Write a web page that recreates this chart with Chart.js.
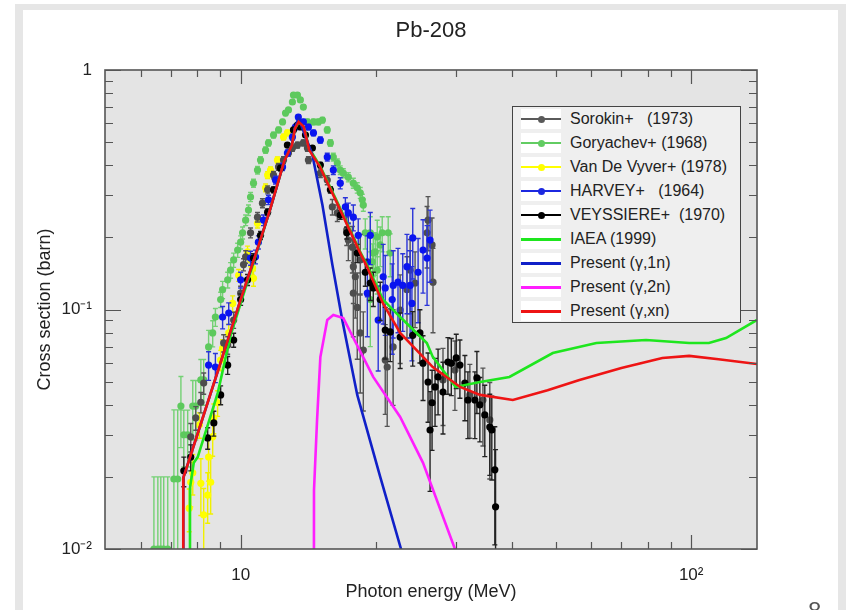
<!DOCTYPE html>
<html><head><meta charset="utf-8">
<script src="https://cdn.jsdelivr.net/npm/chart.js@4.4.0/dist/chart.umd.min.js"></script>
<style>
html,body{margin:0;padding:0;background:#fff;overflow:hidden;width:850px;height:610px}
#wrap{position:relative;width:850px;height:610px}
canvas{position:absolute;left:0;top:0}
.frame{position:absolute;background:#e6e6e6}
#title{position:absolute;left:331px;width:200px;top:16px;text-align:center;font:22px "Liberation Sans",Arial,sans-serif;color:#222;line-height:28px}
#legend{position:absolute;left:512px;top:106px;width:227px;height:215px;background:#efefef;border:1px solid #444;font-family:"Liberation Sans",Arial,sans-serif;font-size:16px;color:#222}
.row{position:absolute;left:0;height:24px;width:100%}
.sw{position:absolute;left:8px;top:2px;width:40px;height:20px;background:#fff}
.ln{position:absolute;left:0;width:40px}
.dot{position:absolute;left:16.5px;top:6.5px;width:7px;height:7px;border-radius:50%}
.tx{position:absolute;left:57px;top:0;line-height:24px;white-space:pre}
#pg{position:absolute;left:808px;top:597px;font:24px "Liberation Sans",Arial,sans-serif;color:#555}
</style></head>
<body>
<div id="wrap">
<canvas id="c" width="850" height="610"></canvas>
<div class="frame" style="left:15px;top:4px;width:8px;height:606px"></div>
<div class="frame" style="left:15px;top:4px;width:831px;height:6px"></div>
<div class="frame" style="left:838px;top:4px;width:8px;height:606px"></div>
<div id="title">Pb-208</div>
<div id="legend"></div>
<div id="pg">8</div>
</div>
<script>
// ---------- axis ticks ----------
const xMajorTicks = [10, 100];
const xTickLabels = ['10', '10²'];
const xMinorTicks = [6, 7, 8, 9, 20, 30, 40, 50, 60, 70, 80, 90];
const yMajorTicks = [0.01, 0.1, 1];
const yTickLabels = ['10⁻²', '10⁻¹', '1'];
const yMinorTicks = [0.02,0.03,0.04,0.05,0.06,0.07,0.08,0.09,0.2,0.3,0.4,0.5,0.6,0.7,0.8,0.9];

// ---------- experimental data (E MeV, sigma barn, error barn) ----------
const soroE = [7.75,7.95,8.16,8.28,9.17,9.36,9.65,10.0,10.15,10.26,10.52,10.90,11.18,11.48,11.83,12.14,12.45,12.77,13.03,13.37,13.78,14.07,14.14,15.03,15.57,15.98,16.39,17.2,17.34,17.7,17.79,17.97,17.79,18.15,18.43,18.72,18.43,20.94,21.15,21.8,22.6,23.4,23.78,24.39,25.93,26.06,26.6,26.73,28.13,29.9,32.27,34.5,35.73];
const soroS = [0.0294,0.0353,0.0410,0.0493,0.0725,0.071,0.0904,0.117,0.154,0.166,0.209,0.243,0.278,0.316,0.364,0.394,0.421,0.450,0.472,0.486,0.496,0.472,0.421,0.371,0.347,0.268,0.253,0.215,0.195,0.182,0.151,0.137,0.117,0.102,0.0798,0.0677,0.161,0.0615,0.0575,0.0698,0.0995,0.121,0.146,0.129,0.209,0.236,0.186,0.130,0.0508,0.0559,0.0440,0.0419,0.0346];
const soroErr = [0.004,0.004,0.004,0.005,0.006,0.006,0.007,0.008,0.009,0.01,0.01,0.011,0.012,0.012,0.013,0.013,0.014,0.014,0.014,0.014,0.014,0.014,0.014,0.015,0.015,0.02,0.02,0.03,0.035,0.04,0.045,0.045,0.04,0.04,0.035,0.03,0.045,0.025,0.025,0.03,0.04,0.045,0.05,0.045,0.06,0.06,0.055,0.05,0.018,0.018,0.015,0.015,0.015];

const goryE = [6.42,6.55,6.65,6.75,6.89,7.11,7.25,7.37,7.48,7.63,7.83,7.95,8.16,8.28,8.49,8.67,8.79,9.03,9.12,9.36,9.50,9.65,9.85,10.0,10.10,10.26,10.41,10.52,10.68,10.90,11.07,11.36,11.53,11.83,12.14,12.39,12.58,12.77,13.03,13.10,13.37,13.57,13.78,14.07,14.51,14.88,15.19,15.57,15.82,16.06,16.39,16.64,16.90,17.34,17.79,18.15,18.43,18.62,18.72,18.91,19.40,19.60,19.70,19.90,20.10,20.10,20.41,20.62,21.26,21.48,19.40];
const goryS = [0.0100,0.0100,0.0100,0.0100,0.0100,0.0196,0.0196,0.0395,0.0300,0.0300,0.0395,0.0395,0.0508,0.0508,0.0698,0.0798,0.093,0.110,0.121,0.133,0.146,0.161,0.177,0.191,0.209,0.236,0.260,0.295,0.337,0.382,0.421,0.463,0.496,0.535,0.562,0.607,0.661,0.681,0.735,0.786,0.786,0.750,0.700,0.607,0.607,0.607,0.618,0.562,0.496,0.433,0.409,0.382,0.371,0.357,0.337,0.322,0.307,0.287,0.273,0.209,0.209,0.158,0.172,0.174,0.201,0.146,0.186,0.209,0.209,0.172,0.110];
const goryErr = [0.010,0.010,0.010,0.010,0.010,0.0185,0.0185,0.013,0.008,0.008,0.011,0.011,0.011,0.011,0.012,0.010,0.008,0.008,0.010,0.010,0.011,0.011,0.012,0.012,0.012,0.012,0.013,0.013,0.013,0.014,0.014,0.014,0.015,0.015,0.015,0.015,0.015,0.015,0.016,0.016,0.016,0.016,0.016,0.016,0.016,0.016,0.016,0.016,0.016,0.016,0.016,0.016,0.016,0.016,0.016,0.016,0.016,0.016,0.016,0.03,0.035,0.03,0.035,0.035,0.035,0.03,0.035,0.035,0.035,0.035,0.04];

const vdvE = [7.69,7.75,7.83,8.10,8.16,8.28,8.45,8.49,8.58,8.67,8.72,8.89,9.03,9.12,9.41,9.60,9.90,10.36,10.52,10.63,10.68,10.90,11.36,11.48,11.65,12.07,12.45,12.70];
const vdvS = [0.0148,0.0190,0.0208,0.0330,0.0188,0.0139,0.0168,0.0242,0.0190,0.0294,0.0353,0.0408,0.0615,0.0688,0.0798,0.106,0.139,0.174,0.161,0.149,0.135,0.229,0.322,0.364,0.382,0.421,0.525,0.546];
const vdvErr = [0.003,0.004,0.004,0.004,0.005,0.004,0.004,0.005,0.005,0.005,0.005,0.005,0.006,0.006,0.007,0.008,0.008,0.01,0.01,0.01,0.01,0.01,0.012,0.012,0.012,0.012,0.014,0.014];

const harvE = [8.49,8.79,9.12,9.41,10.0,10.52,10.79,10.95,11.24,11.53,11.95,12.39,12.70,13.03,13.23,13.43,13.78,14.14,14.51,15.03,15.57,16.06,16.64,17.08,17.34,17.79,18.24,19.11,19.40,19.11,20.2,20.72,20.94,21.70,21.81,22.35,22.9,23.4,23.78,24.0,24.1,24.77,25.4,25.93,26.33];
const harvS = [0.0586,0.0575,0.093,0.0966,0.133,0.164,0.166,0.191,0.236,0.287,0.347,0.394,0.450,0.525,0.578,0.636,0.607,0.578,0.546,0.510,0.433,0.382,0.337,0.268,0.253,0.243,0.204,0.158,0.204,0.117,0.0904,0.137,0.123,0.110,0.126,0.130,0.126,0.151,0.126,0.106,0.199,0.143,0.177,0.164,0.195];
const harvErr = [0.008,0.008,0.01,0.01,0.01,0.011,0.011,0.012,0.012,0.013,0.013,0.014,0.014,0.015,0.015,0.015,0.015,0.015,0.015,0.015,0.016,0.016,0.018,0.025,0.025,0.03,0.035,0.045,0.05,0.04,0.035,0.05,0.045,0.045,0.05,0.05,0.045,0.055,0.05,0.045,0.065,0.055,0.06,0.06,0.065];

const veysE = [7.48,7.75,8.45,8.72,9.03,9.36,9.65,10.0,10.36,10.68,11.07,11.48,11.83,12.26,12.70,13.10,13.37,13.57,13.93,14.43,15.03,15.82,16.64,17.2,18.15,18.91,19.40,19.70,20.41,20.94,21.48,22.6,24.1,25.0,25.4,26.06,26.33,26.6,27.01,27.43,28.13,28.85,29.35,30.1,30.67,31.46,31.95,33.11,33.45,33.96,34.83,35.73,36.1,36.66,36.8];
const veysS = [0.0212,0.0242,0.0291,0.0336,0.0440,0.0586,0.0746,0.110,0.133,0.164,0.204,0.255,0.316,0.389,0.486,0.562,0.589,0.578,0.535,0.472,0.401,0.316,0.248,0.209,0.172,0.143,0.129,0.123,0.110,0.0821,0.0806,0.0767,0.078,0.0798,0.0597,0.0498,0.0314,0.0408,0.0475,0.0523,0.0452,0.0603,0.0597,0.0628,0.0586,0.0493,0.0419,0.0419,0.0518,0.0400,0.0363,0.0323,0.0314,0.0214,0.0150];
const veysErr = [0.003,0.003,0.003,0.004,0.004,0.005,0.005,0.006,0.007,0.007,0.008,0.008,0.009,0.01,0.01,0.01,0.01,0.01,0.01,0.01,0.01,0.01,0.01,0.012,0.015,0.018,0.02,0.02,0.02,0.02,0.02,0.02,0.02,0.02,0.018,0.016,0.014,0.015,0.015,0.016,0.015,0.016,0.016,0.016,0.016,0.015,0.013,0.013,0.015,0.012,0.012,0.012,0.012,0.011,0.011];

// ---------- evaluated curves ----------
const iaeaE = [7.70,7.72,7.87,8.03,8.5,8.9,9.5,10.0,11.0,11.65,12.5,13.0,13.2,13.45,13.8,14.2,15.0,16.4,18.4,19.1,20.7,22.6,25.9,26.7,30.0,34.0,39.5,49.3,61.6,79.4,99,109.5,119.5,140];
const iaeaS = [0.005,0.0180,0.0229,0.0242,0.034,0.045,0.078,0.106,0.187,0.265,0.417,0.49,0.57,0.605,0.58,0.47,0.398,0.28,0.175,0.153,0.11,0.093,0.0725,0.0634,0.0475,0.0498,0.0523,0.0658,0.0725,0.0746,0.0725,0.0725,0.076,0.0904];

const g1nE = [7.45,7.46,8.0,9.0,10.0,11.0,11.65,12.5,13.0,13.2,13.45,14.43,15.19,15.98,16.81,18.15,20.41,22.7,23.5];
const g1nS = [0.005,0.0198,0.0297,0.059,0.110,0.189,0.265,0.417,0.49,0.575,0.63,0.442,0.273,0.154,0.0904,0.0440,0.0200,0.0100,0.008];

const g2nE = [14.54,14.55,14.78,15.03,15.57,16.06,16.9,19.69,22.6,25.4,29.9,30.5];
const g2nS = [0.005,0.0176,0.0346,0.0633,0.0904,0.0948,0.0921,0.0523,0.0356,0.0229,0.0100,0.009];

const gxnE = [7.45,7.46,8.0,9.0,10.0,11.0,11.65,12.5,13.0,13.2,13.45,13.8,14.2,15.0,16.4,18.43,19.1,20.7,22.6,26.7,30.7,34.0,40.2,48,56.5,70,86.3,99,115,140];
const gxnS = [0.005,0.0198,0.0297,0.059,0.110,0.189,0.265,0.417,0.486,0.57,0.607,0.58,0.463,0.394,0.276,0.172,0.150,0.106,0.0798,0.0575,0.0475,0.044,0.0419,0.046,0.0508,0.057,0.0627,0.064,0.062,0.0592];

// ---------- legend ----------
const legendNames = ['Sorokin+   (1973)','Goryachev+ (1968)','Van De Vyver+ (1978)','HARVEY+   (1964)','VEYSSIERE+  (1970)','IAEA (1999)','Present (γ,1n)','Present (γ,2n)','Present (γ,xn)'];
const legendColors = ['#5a5a5a','#62cc62','#ffff00','#1c28e0','#000000','#1ee61e','#1020c8','#ff1eff','#ee1414'];
const legendDots = [true,true,true,true,true,false,false,false,false];

const pts = (E,S) => E.map((e,i)=>({x:e,y:S[i]}));

const leg = document.getElementById('legend');
legendNames.forEach((n,i)=>{
  const r = document.createElement('div'); r.className='row'; r.style.top=(i*24)+'px';
  const sw = document.createElement('div'); sw.className='sw';
  const ln = document.createElement('div'); ln.className='ln';
  const lw = legendDots[i] ? 1.5 : 3;
  ln.style.height=lw+'px'; ln.style.top=(10-lw/2)+'px'; ln.style.background=legendColors[i];
  sw.appendChild(ln);
  if (legendDots[i]) { const d=document.createElement('div'); d.className='dot'; d.style.background=legendColors[i]; sw.appendChild(d); }
  const t = document.createElement('div'); t.className='tx'; t.textContent=n;
  r.appendChild(sw); r.appendChild(t); leg.appendChild(r);
});

// ---------- plugins ----------
const errorBars = {
  id:'errorBars',
  beforeDatasetDraw(chart,args){
    const ds = chart.data.datasets[args.index];
    if (!ds.err) return;
    const {ctx, chartArea:a, scales:{x,y}} = chart;
    ctx.save();
    ctx.beginPath(); ctx.rect(a.left,a.top,a.right-a.left,a.bottom-a.top); ctx.clip();
    ctx.strokeStyle = ds.errColor; ctx.lineWidth = 1.4;
    ctx.beginPath();
    ds.data.forEach((p,i)=>{
      const px = x.getPixelForValue(p.x);
      const lo = Math.max(p.y-ds.err[i], 1e-4), hi = p.y+ds.err[i];
      const y1 = y.getPixelForValue(lo), y2 = y.getPixelForValue(hi);
      ctx.moveTo(px,y1); ctx.lineTo(px,y2);
      ctx.moveTo(px-2.5,y1); ctx.lineTo(px+2.5,y1);
      ctx.moveTo(px-2.5,y2); ctx.lineTo(px+2.5,y2);
    });
    ctx.stroke();
    ctx.restore();
  }
};
const frame = {
  id:'frame',
  beforeDraw(chart){
    const {ctx, chartArea:a} = chart;
    ctx.save();
    ctx.fillStyle='#ffffff'; ctx.fillRect(0,0,chart.width,chart.height);
    ctx.fillStyle='#e4e4e4'; ctx.fillRect(a.left,a.top,a.right-a.left,a.bottom-a.top);
    ctx.restore();
  },
  afterDraw(chart){
    const {ctx, chartArea:a, scales:{x,y}} = chart;
    ctx.save();
    ctx.strokeStyle='#555'; ctx.lineWidth=1.2;
    ctx.beginPath();
    const vt = (v,len)=>{ const p=Math.round(x.getPixelForValue(v))+0.5; ctx.moveTo(p,a.bottom); ctx.lineTo(p,a.bottom-len); ctx.moveTo(p,a.top); ctx.lineTo(p,a.top+len); };
    const ht = (v,len)=>{ const p=Math.round(y.getPixelForValue(v))+0.5; ctx.moveTo(a.left,p); ctx.lineTo(a.left+len,p); ctx.moveTo(a.right,p); ctx.lineTo(a.right-len,p); };
    xMinorTicks.forEach(v=>vt(v,7)); xMajorTicks.forEach(v=>vt(v,14));
    yMinorTicks.forEach(v=>ht(v,8)); yMajorTicks.forEach(v=>ht(v,16));
    ctx.stroke();
    ctx.lineWidth=1.6; ctx.strokeRect(a.left,a.top,a.right-a.left,a.bottom-a.top);
    ctx.restore();
  }
};

Chart.defaults.font.family = '"Liberation Sans", Arial, sans-serif';
Chart.defaults.color = '#222';

const dataSet = (label,E,S,err,col,errCol,order)=>({label,data:pts(E,S),err,errColor:errCol,showLine:false,pointRadius:3.6,pointHoverRadius:3.6,pointBorderWidth:0,backgroundColor:col,borderColor:col,order});
const curve = (label,E,S,col,order)=>({label,data:pts(E,S),showLine:true,pointRadius:0,borderColor:col,backgroundColor:col,borderWidth:2.6,tension:0,order});

new Chart(document.getElementById('c'),{
  type:'scatter',
  data:{datasets:[
    dataSet('Goryachev+ (1968)',goryE,goryS,goryErr,'#5dc95d','#74d174',9),
    dataSet('Van De Vyver+ (1978)',vdvE,vdvS,vdvErr,'#ffff00','#f0f000',8),
    dataSet('Sorokin+ (1973)',soroE,soroS,soroErr,'#4d4d4d','#555555',7),
    dataSet('HARVEY+ (1964)',harvE,harvS,harvErr,'#0a14f0','#2a34d8',6),
    dataSet('VEYSSIERE+ (1970)',veysE,veysS,veysErr,'#000000','#222222',5),
    curve('IAEA (1999)',iaeaE,iaeaS,'#1ee61e',3),
    curve('Present (γ,1n)',g1nE,g1nS,'#1020c8',2),
    curve('Present (γ,2n)',g2nE,g2nS,'#ff1eff',1),
    curve('Present (γ,xn)',gxnE,gxnS,'#ee1414',0)
  ]},
  options:{
    responsive:false, animation:false, devicePixelRatio:1,
    layout:{padding:{left:0,right:93,top:70,bottom:0}},
    plugins:{ legend:{display:false}, tooltip:{enabled:false}, title:{display:false} },
    scales:{
      x:{type:'logarithmic',min:5,max:140,
        grid:{display:false},border:{display:false},
        afterBuildTicks:s=>{s.ticks=xMajorTicks.map(v=>({value:v,major:true}));},
        afterFit:s=>{s.height=61;},
        ticks:{autoSkip:false,maxRotation:0,padding:8,font:{size:17},color:'#222',callback:(v,i)=>xTickLabels[i]},
        title:{display:true,text:'Photon energy (MeV)',font:{size:18},color:'#222',padding:{top:0,bottom:7}}
      },
      y:{type:'logarithmic',min:0.01,max:1,
        grid:{display:false},border:{display:false},
        afterBuildTicks:s=>{s.ticks=yMajorTicks.map(v=>({value:v,major:true}));},
        afterFit:s=>{s.width=105;},
        ticks:{autoSkip:false,padding:5,font:{size:17},color:'#222',callback:(v,i)=>yTickLabels[i]},
        title:{display:true,text:'Cross section (barn)',font:{size:18},color:'#222',padding:{top:34,bottom:0}}
      }
    }
  },
  plugins:[frame,errorBars]
});
</script>
</body></html>
